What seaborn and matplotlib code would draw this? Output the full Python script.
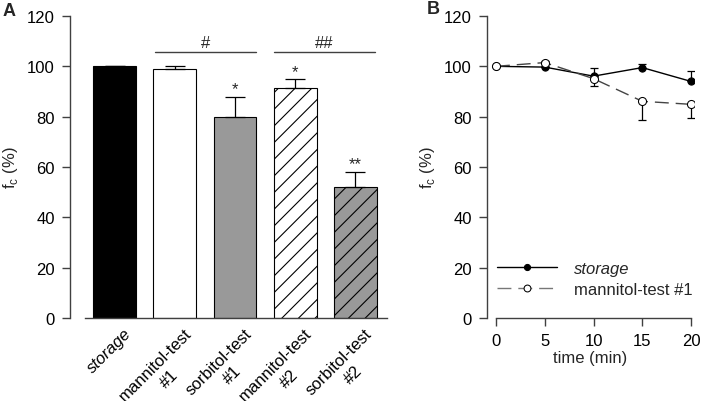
import numpy as np
import pandas as pd
import matplotlib
matplotlib.use('Agg')
import matplotlib.pyplot as plt
from matplotlib.transforms import ScaledTranslation
import seaborn as sns

# Panel A data
groups = ['storage', 'mannitol-test\n#1', 'sorbitol-test\n#1', 'mannitol-test\n#2', 'sorbitol-test\n#2']
fc_mean = [100.0, 98.8, 80.0, 91.4, 52.0]
fc_err = [0.0, 1.4, 7.8, 3.4, 6.2]
bar_colors = ['black', 'white', '#999999', 'white', '#999999']
bar_hatch = ['', '', '', '//', '//']
stars = ['', '', '*', '*', '**']

# Panel B data
time_min = [0, 5, 10, 15, 20]
storage_fc = [100.0, 99.7, 96.1, 99.5, 94.0]
storage_up = [0.0, 0.0, 3.4, 1.5, 4.3]
mannitol_fc = [100.0, 101.5, 95.1, 86.1, 84.9]
mannitol_up = [0.0, 0.8, 0.0, 0.0, 0.0]
mannitol_down = [0.0, 0.0, 2.8, 7.4, 5.5]

sns.set_style('ticks')
plt.rcParams['font.family'] = ['Liberation Sans', 'DejaVu Sans']
plt.rcParams['font.size'] = 12
plt.rcParams['hatch.linewidth'] = 0.8

axis_col = '#404040'
fs = 12

fig = plt.figure(figsize=(7.03, 4.02), dpi=100)
ax1 = fig.add_axes([70 / 703, 1 - 319 / 402, 317 / 703, 302 / 402])
ax2 = fig.add_axes([487 / 703, 1 - 319 / 402, 207 / 703, 302 / 402])

# ---- panel A: bars
df = pd.DataFrame({'group': groups, 'fc': fc_mean})
sns.barplot(data=df, x='group', y='fc', hue='group', hue_order=groups, order=groups,
            palette=bar_colors, legend=False, width=0.71, edgecolor='black',
            linewidth=0.8, errorbar=None, ax=ax1)
for patch, h in zip(ax1.patches, bar_hatch):
    patch.set_hatch(h)

xs = np.arange(len(groups))
ax1.errorbar(xs, fc_mean, yerr=[np.zeros(len(xs)), fc_err], fmt='none',
             ecolor='black', elinewidth=0.9, capsize=7.5, capthick=0.9, zorder=3)
for x, m, e, s in zip(xs, fc_mean, fc_err, stars):
    if s:
        ax1.text(x, m + e + 0.2, s, ha='center', va='bottom', fontsize=fs)

# significance brackets
ax1.plot([0.67, 2.35], [105.8, 105.8], color=axis_col, lw=1, clip_on=False)
ax1.text(1.51, 106.4, '#', ha='center', va='bottom', fontsize=fs)
ax1.plot([2.65, 4.32], [105.8, 105.8], color=axis_col, lw=1, clip_on=False)
ax1.text(3.485, 106.4, '##', ha='center', va='bottom', fontsize=fs)

ax1.set_xlim(-0.739, 4.523)
ax1.set_ylim(0, 120)
ax1.set_yticks(range(0, 121, 20))
ax1.set_xlabel('')
ax1.set_ylabel('f$_\\mathregular{c}$ (%)', labelpad=5, fontsize=fs)
ax1.set_xticks(xs, groups)
ax1.spines['bottom'].set_bounds(-0.49, 4.523)

# ---- panel B: time course
ax2.errorbar(time_min, storage_fc, yerr=[np.zeros(5), storage_up], fmt='none',
             ecolor='black', elinewidth=0.9, capsize=3, capthick=0.9, zorder=2)
ax2.errorbar(time_min, mannitol_fc, yerr=[mannitol_down, mannitol_up], fmt='none',
             ecolor='black', elinewidth=0.9, capsize=3, capthick=0.9, zorder=2)
sns.lineplot(x=time_min, y=storage_fc, color='black', lw=1, marker='o', ms=5.2,
             mfc='black', mec='black', label='storage', ax=ax2, zorder=3)
sns.lineplot(x=time_min, y=mannitol_fc, color='#444444', lw=1, marker='o', ms=5.8,
             mfc='white', mec='black', label='mannitol-test #1',
             ax=ax2, zorder=4)
ax2.lines[-1].set_dashes((10, 5))

ax2.set_xlim(-0.92, 20.3)
ax2.set_ylim(0, 120)
ax2.set_xticks(range(0, 21, 5))
ax2.set_yticks(range(0, 121, 20))
ax2.set_xlabel('time (min)', labelpad=1, fontsize=fs)
ax2.set_ylabel('f$_\\mathregular{c}$ (%)', labelpad=5, fontsize=fs)
ax2.spines['bottom'].set_bounds(0, 20)
leg = ax2.legend(loc='upper left', bbox_to_anchor=(0.048, 0.19), frameon=False,
                 handlelength=3.6, handletextpad=1.0, labelspacing=0.4,
                 borderpad=0, borderaxespad=0, markerscale=0.85, fontsize=fs)
leg.get_texts()[0].set_fontstyle('italic')
leg.get_lines()[1].set_color('#777777')

for ax in (ax1, ax2):
    sns.despine(ax=ax)
    for sp in ('left', 'bottom'):
        ax.spines[sp].set_color(axis_col)
        ax.spines[sp].set_linewidth(1)
    ax.tick_params(direction='out', length=6, width=1, color=axis_col, pad=5,
                   labelsize=fs, labelcolor='black')
ax1.tick_params(axis='x', length=0, pad=3)

# rotated category labels, set last so nothing resets them
off = ScaledTranslation(9 / 100, -3 / 100, fig.dpi_scale_trans)
for lbl in ax1.get_xticklabels():
    lbl.set_rotation(45)
    lbl.set_rotation_mode('anchor')
    lbl.set_ha('right')
    lbl.set_va('top')
    lbl.set_multialignment('center')
    lbl.set_linespacing(1.35)
    lbl.set_transform(lbl.get_transform() + off)
ax1.get_xticklabels()[0].set_fontstyle('italic')

fig.text(9 / 703, 1 - 11 / 402, 'A', fontsize=13, fontweight='bold', ha='center', va='center')
fig.text(433 / 703, 1 - 10 / 402, 'B', fontsize=13, fontweight='bold', ha='center', va='center')

fig.savefig('out.png', dpi=100)
